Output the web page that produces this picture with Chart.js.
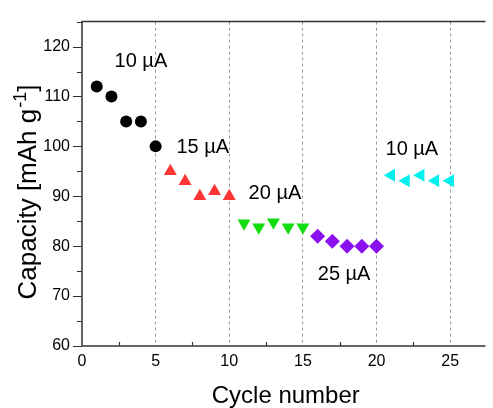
<!DOCTYPE html>
<html>
<head>
<meta charset="utf-8">
<script src="https://cdn.jsdelivr.net/npm/chart.js@4"></script>
<style>
  html, body { margin: 0; padding: 0; background: #fff; }
  #wrap { width: 493px; height: 408px; }
</style>
</head>
<body>
<div id="wrap"><canvas id="chart"></canvas></div>
<script>
// cycle data
const cycles10a = [1, 2, 3, 4, 5];
const cap10a = [112, 110, 105, 105, 100];
const cycles15 = [6, 7, 8, 9, 10];
const cap15 = [95, 93, 90, 91, 90];
const cycles20 = [11, 12, 13, 14, 15];
const cap20 = [84.6, 83.8, 84.8, 83.8, 83.8];
const cycles25 = [16, 17, 18, 19, 20];
const cap25 = [82, 81, 80, 80, 80];
const cycles10b = [21, 22, 23, 24, 25];
const cap10b = [94.2, 93.1, 94.2, 93.1, 93.1];

// tick values
const xTicks = [0, 5, 10, 15, 20, 25];
const yTicks = [60, 70, 80, 90, 100, 110, 120];

// current labels next to each group
const labelText = ['10 \u00b5A', '15 \u00b5A', '20 \u00b5A', '25 \u00b5A', '10 \u00b5A'];
const labelX = [4, 8.2, 13.1, 17.8, 22.4];
const labelY = [117, 99.8, 90.6, 74.4, 99.4];

const FONT = 'Arial, "Liberation Sans", sans-serif';

function pts(xs, ys) {
  return xs.map((x, i) => ({ x: x, y: ys[i] }));
}

// frame, minor ticks, labels and axis titles
const decor = {
  id: 'decor',
  afterDatasetsDraw(chart) {
    const ctx = chart.ctx;
    const a = chart.chartArea;
    const xs = chart.scales.x;
    const ys = chart.scales.y;
    ctx.save();
    ctx.strokeStyle = '#333';
    ctx.lineWidth = 1.5;
    ctx.beginPath();
    ctx.moveTo(a.right, a.top);
    ctx.lineTo(a.left, a.top);
    ctx.lineTo(a.left, a.bottom);
    ctx.lineTo(a.right, a.bottom);
    ctx.stroke();

    // y ticks, outward
    ctx.lineWidth = 1.2;
    ctx.beginPath();
    for (let v = 60; v <= 125; v += 5) {
      const py = Math.round(ys.getPixelForValue(v)) + 0.5;
      const len = v % 10 === 0 ? 9 : 5;
      ctx.moveTo(a.left, py);
      ctx.lineTo(a.left - len, py);
    }
    // x minor ticks, inward
    for (let v = 2.5; v < xs.max; v += 5) {
      const px = Math.round(xs.getPixelForValue(v)) + 0.5;
      ctx.moveTo(px, a.bottom);
      ctx.lineTo(px, a.bottom - 4);
    }
    ctx.stroke();

    // group labels
    ctx.fillStyle = '#000';
    ctx.font = '20px ' + FONT;
    ctx.textAlign = 'center';
    ctx.textBaseline = 'middle';
    labelText.forEach((t, i) => {
      ctx.fillText(t, xs.getPixelForValue(labelX[i]), ys.getPixelForValue(labelY[i]));
    });

    // x title
    ctx.font = '24px ' + FONT;
    ctx.textBaseline = 'alphabetic';
    ctx.fillText('Cycle number', (a.left + a.right) / 2 + 2, 403);

    // y title with superscript
    ctx.translate(36, 192);
    ctx.rotate(-Math.PI / 2);
    const main = 'Capacity [mAh g';
    const sup = '-1';
    const end = ']';
    ctx.font = '26px ' + FONT;
    const w1 = ctx.measureText(main).width;
    const w3 = ctx.measureText(end).width;
    ctx.font = '18px ' + FONT;
    const w2 = ctx.measureText(sup).width;
    let x0 = -(w1 + w2 + w3 + 1) / 2;
    ctx.textAlign = 'left';
    ctx.font = '26px ' + FONT;
    ctx.fillText(main, x0, 0);
    ctx.font = '18px ' + FONT;
    ctx.fillText(sup, x0 + w1 + 1, -10);
    ctx.font = '26px ' + FONT;
    ctx.fillText(end, x0 + w1 + w2 + 1, 0);
    ctx.restore();
  }
};

new Chart(document.getElementById('chart'), {
  type: 'scatter',
  data: {
    datasets: [
      { data: pts(cycles10a, cap10a), pointStyle: 'circle', pointRadius: 6, backgroundColor: '#000', borderColor: '#000', borderWidth: 0 },
      { data: pts(cycles15, cap15), pointStyle: 'triangle', pointRadius: 7.5, backgroundColor: '#ff3535', borderColor: '#ff3535', borderWidth: 0 },
      { data: pts(cycles20, cap20), pointStyle: 'triangle', rotation: 180, pointRadius: 7.5, backgroundColor: '#11dd11', borderColor: '#11dd11', borderWidth: 0 },
      { data: pts(cycles25, cap25), pointStyle: 'rectRot', pointRadius: 7.5, backgroundColor: '#8a10f0', borderColor: '#8a10f0', borderWidth: 0 },
      { data: pts(cycles10b, cap10b), pointStyle: 'triangle', rotation: -90, pointRadius: 7.5, backgroundColor: '#00f0f0', borderColor: '#00f0f0', borderWidth: 0 }
    ]
  },
  options: {
    responsive: true,
    maintainAspectRatio: false,
    animation: false,
    layout: { padding: { top: 14, right: 0, bottom: 0, left: 0 } },
    plugins: { legend: { display: false }, tooltip: { enabled: false } },
    scales: {
      x: {
        type: 'linear',
        min: 0,
        max: 27.4,
        afterFit: (s) => { s.height = 62; },
        afterBuildTicks: (s) => { s.ticks = xTicks.map((v) => ({ value: v })); },
        ticks: {
          padding: 6,
          color: '#000',
          font: { family: FONT, size: 16 },
          maxRotation: 0,
          autoSkip: false
        },
        grid: {
          drawTicks: false,
          lineWidth: 1,
          color: (c) => (c.tick && c.tick.value > 0 ? '#9a9a9a' : 'rgba(0,0,0,0)')
        },
        border: { display: false, dash: [3, 3] }
      },
      y: {
        type: 'linear',
        min: 60,
        max: 125,
        afterFit: (s) => { s.width = 82; },
        afterBuildTicks: (s) => { s.ticks = yTicks.map((v) => ({ value: v })); },
        ticks: {
          padding: 12,
          color: '#000',
          font: { family: FONT, size: 16 }
        },
        grid: { display: true, drawOnChartArea: false, drawTicks: false },
        border: { display: false }
      }
    }
  },
  plugins: [decor]
});
</script>
</body>
</html>
